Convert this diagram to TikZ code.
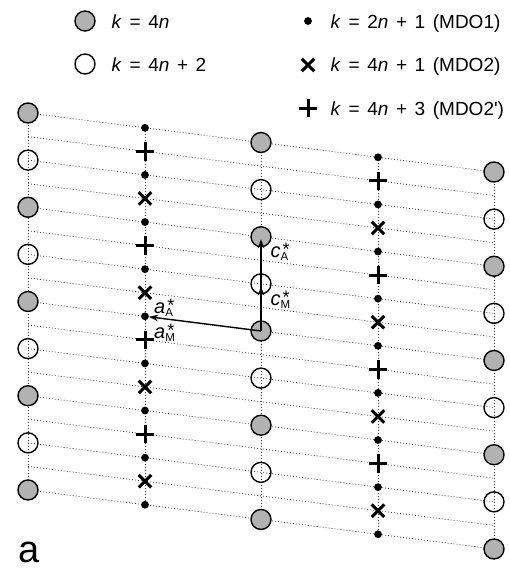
\documentclass[tikz,border=0pt]{standalone}
\usepackage{fontspec}
\setmainfont{Liberation Sans}
\usetikzlibrary{arrows.meta,shapes.misc}
\newcommand{\gp}{\hspace{0.4em}}
\newcommand{\vk}{\textit{k}}
\newcommand{\vn}{\textit{n}}
\newcommand{\recip}[2]{\textit{#1}\makebox[0pt][l]{\raisebox{-3.7pt}{\fontsize{11.5}{11.5}\selectfont #2}}\hspace{2pt}\raisebox{1.5pt}{\fontsize{18}{18}\selectfont *}}
\begin{document}
\begin{tikzpicture}[x=1pt,y=-1pt,
  gcirc/.style={circle,draw=black,line width=1.4pt,fill=black!30,minimum size=20pt,inner sep=0pt},
  ocirc/.style={circle,draw=black,line width=1.4pt,minimum size=20pt,inner sep=0pt},
  mdot/.style={circle,fill=black,minimum size=7.8pt,inner sep=0pt},
  mcross/.style={cross out,draw=black,line width=3pt,minimum size=9.5pt,inner sep=0pt},
  mplus/.style={cross out,draw=black,line width=3pt,minimum size=10pt,inner sep=0pt,rotate=45},
  dline/.style={black!75,line width=0.75pt,dash pattern=on 0.9pt off 2.1pt},
  vec/.style={line width=1.4pt,-{Stealth[length=9pt,width=6.5pt]}},
  legtext/.style={anchor=base west,inner sep=0pt,font=\fontsize{19}{19}\selectfont},
  lab/.style={anchor=base west,inner sep=0pt,font=\fontsize{20}{20}\selectfont}]
\useasboundingbox (0,0) rectangle (510,568);
\foreach \c/\x in {1/28,2/145,3/261,4/378,5/494}{
  \foreach \i in {0,...,16}{
    \coordinate (p\c-\i) at (\x,{113+23.56*\i+(\x-28)*0.1266});
  }
}
\foreach \i in {0,...,16} \draw[dline] (p1-\i) -- (p5-\i);
\foreach \c in {1,...,5} \draw[dline] (p\c-0) -- (p\c-16);
\foreach \c in {1,3,5}{
  \foreach \i in {0,4,...,16} \node[gcirc] (m\c-\i) at (p\c-\i) {};
  \foreach \i in {2,6,...,14} \node[ocirc] (m\c-\i) at (p\c-\i) {};
}
\foreach \c in {2,4}{
  \foreach \i in {0,2,...,16} \node[mdot] (m\c-\i) at (p\c-\i) {};
  \foreach \i in {1,5,...,13} \node[mplus] (m\c-\i) at (p\c-\i) {};
  \foreach \i in {3,7,...,15} \node[mcross] (m\c-\i) at (p\c-\i) {};
}
\draw[vec,shorten >=2.5pt] (m3-8.center) -- (m3-4.center);
\draw[vec,shorten >=2.5pt] (m3-8.center) -- (m3-6.center);
\draw[vec] (m3-8.center) -- (m2-8);
\node[lab] (lcA) at (270.5,257) {\recip{c}{A}};
\node[lab] (lcM) at (270.5,305) {\recip{c}{M}};
\node[lab] (laA) at (154,313) {\recip{a}{A}};
\node[lab] (laM) at (154,338) {\recip{a}{M}};
\node[gcirc] (lg1) at (85,21) {};
\node[legtext] (lt1) at (111.5,28) {\vk\gp=\gp4\vn};
\node[ocirc] (lg2) at (85,64) {};
\node[legtext] (lt2) at (111.5,71.5) {\vk\gp=\gp4\vn\gp+\gp2};
\node[mdot] (lg3) at (308,21) {};
\node[legtext] (lt3) at (330.5,28) {\vk\gp=\gp2\vn\gp+\gp1\gp(MDO1)};
\node[mcross] (lg4) at (308,65) {};
\node[legtext] (lt4) at (330.5,71.5) {\vk\gp=\gp4\vn\gp+\gp1\gp(MDO2)};
\node[mplus] (lg5) at (308,108) {};
\node[legtext] (lt5) at (330.5,115) {\vk\gp=\gp4\vn\gp+\gp3\gp(MDO2\textquotesingle)};
\node[anchor=base west,inner sep=0pt,font=\fontsize{38}{38}\selectfont] (lbl) at (18.5,562) {a};
\end{tikzpicture}
\end{document}
